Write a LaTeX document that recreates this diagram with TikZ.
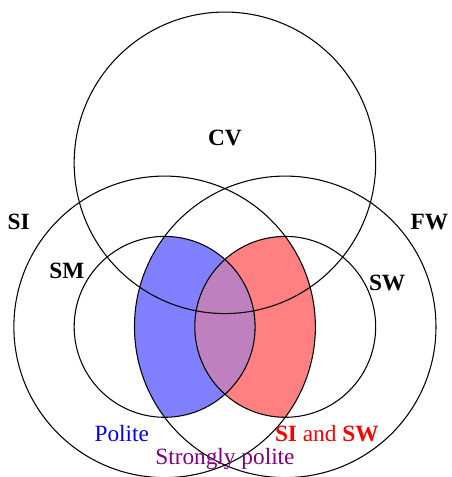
\documentclass[tikz,border=0pt]{standalone}
\usepackage{fontspec}
\setmainfont{Liberation Serif}
\definecolor{overlapc}{RGB}{191,128,191}
\definecolor{textpurple}{RGB}{128,0,128}
\tikzset{
  setline/.style={line width=0.5pt, draw=black},
  setlabel/.style={font=\fontsize{11}{13}\selectfont\bfseries, inner sep=0pt},
  plainlabel/.style={font=\fontsize{11}{13}\selectfont, inner sep=0pt}
}
\begin{document}
\begin{tikzpicture}
\useasboundingbox (-3.73,-2.49) rectangle (3.75,5.42);
% filled regions
\begin{scope}
  \clip (1,0) circle (2.5);
  \fill[blue!50] (-1,0) circle (1.5);
\end{scope}
\begin{scope}
  \clip (-1,0) circle (2.5);
  \fill[red!50] (1,0) circle (1.5);
\end{scope}
\begin{scope}
  \clip (-1,0) circle (1.5);
  \fill[overlapc] (1,0) circle (1.5);
\end{scope}
% circles
\draw[setline] (0,2.72) circle (2.5);
\draw[setline] (-1,0) circle (2.5);
\draw[setline] (1,0) circle (2.5);
\draw[setline] (-1,0) circle (1.5);
\draw[setline] (1,0) circle (1.5);
% labels
\node[setlabel] (cv) at (0,3.14) {CV};
\node[setlabel] (si) at (-3.42,1.74) {SI};
\node[setlabel] (sm) at (-2.62,0.93) {SM};
\node[setlabel] (fw) at (3.39,1.74) {FW};
\node[setlabel] (sw) at (2.69,0.73) {SW};
\node[plainlabel, text=blue] (polite) at (-1.71,-1.77) {Polite};
\node[plainlabel, text=red] (sisw) at (1.69,-1.77) {\textbf{SI} and \textbf{SW}};
\node[plainlabel, text=textpurple] (strong) at (0,-2.19) {Strongly polite};
\end{tikzpicture}
\end{document}
